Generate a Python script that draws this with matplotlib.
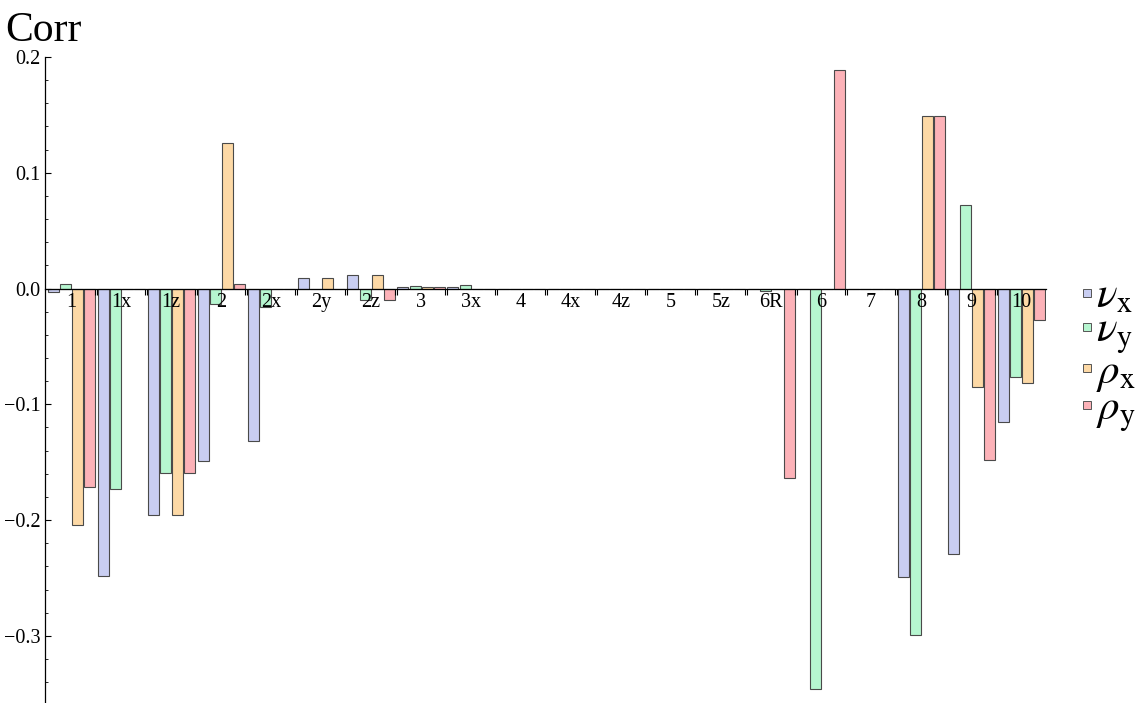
import numpy as np
import matplotlib
matplotlib.use('Agg')
import matplotlib.pyplot as plt
from matplotlib.lines import Line2D
from matplotlib.ticker import FixedLocator, FuncFormatter, MultipleLocator

# categories and series values
groups = ['1', '1x', '1z', '2', '2x', '2y', '2z', '3', '3x', '4',
          '4x', '4z', '5', '5z', '6R', '6', '7', '8', '9', '10']
nu_x = [-0.003, -0.248, -0.196, -0.149, -0.132, 0.0095, 0.0115, 0.001, 0.001, 0.0,
        0.0, 0.0, 0.0, 0.0, 0.0, 0.0, 0.0, -0.249, -0.229, -0.115]
nu_y = [0.004, -0.173, -0.159, -0.0136, -0.016, 0.0, -0.0095, 0.002, 0.0028, 0.0,
        0.0, 0.0, 0.0, 0.0, -0.002, -0.346, 0.0, -0.299, 0.072, -0.076]
rho_x = [-0.204, 0.0, -0.196, 0.1255, 0.0, 0.0095, 0.0115, 0.001, 0.0, 0.0,
         0.0, 0.0, 0.0, 0.0, 0.0, 0.0, 0.0, 0.149, -0.085, -0.082]
rho_y = [-0.171, 0.0, -0.159, 0.0035, 0.0, 0.0, -0.0095, 0.001, 0.0, 0.0,
         0.0, 0.0, 0.0, 0.0, -0.1636, 0.189, 0.0, 0.149, -0.148, -0.027]
series_labels = [r'$\nu_{\mathrm{x}}$', r'$\nu_{\mathrm{y}}$',
                 r'$\rho_{\mathrm{x}}$', r'$\rho_{\mathrm{y}}$']
colors = ['#c9cef2', '#b6f6d0', '#fdd9a6', '#fcb2b8']

plt.rcParams['font.family'] = ['Liberation Serif', 'DejaVu Serif']
plt.rcParams['mathtext.fontset'] = 'stix'

W, H = 1142, 703
fig = plt.figure(figsize=(W / 100, H / 100), dpi=100)
ax = fig.add_axes([45 / W, 0, 1001 / W, (H - 57) / H])

x = np.arange(len(groups))
slot = 0.24
for k, vals in enumerate([nu_x, nu_y, rho_x, rho_y]):
    ax.bar(x + (k - 1.5) * slot, vals, width=0.22, color=colors[k],
           edgecolor='#4a4a4a', linewidth=0.8, zorder=2)

ax.set_xlim(-0.52, 19.5)
ax.set_ylim(-0.358, 0.2)
ax.set_axisbelow(False)  # tick labels drawn over the bars

# axes: y axis at left, x axis through zero
for s in ['top', 'right']:
    ax.spines[s].set_visible(False)
ax.spines['bottom'].set_position(('data', 0))
ax.spines['bottom'].set_zorder(3)
ax.spines['left'].set_linewidth(0.9)
ax.spines['bottom'].set_linewidth(0.9)

# double tick marks at group boundaries, labels at group centres
bounds = np.arange(len(groups) - 1) + 0.5
ax.xaxis.set_major_locator(FixedLocator(np.concatenate([bounds - 0.018, bounds + 0.018])))
ax.xaxis.set_major_formatter(FuncFormatter(lambda v, p: ''))
ax.xaxis.set_minor_locator(FixedLocator(x))
ax.xaxis.set_minor_formatter(FuncFormatter(lambda v, p: groups[int(round(v))]))
ax.tick_params(axis='x', which='major', direction='out', length=4, width=0.8)
ax.tick_params(axis='x', which='minor', length=0, pad=3, labelsize=14.5)

ax.yaxis.set_major_locator(MultipleLocator(0.1))
ax.yaxis.set_minor_locator(MultipleLocator(0.02))
ax.yaxis.set_major_formatter(FuncFormatter(lambda v, p: ('%.1f' % v).replace('-', '\u2212') if abs(v) > 1e-9 else '0.0'))
ax.tick_params(axis='y', which='major', direction='in', length=4, width=0.8, labelsize=14.5, pad=3)
ax.tick_params(axis='y', which='minor', direction='in', length=2, width=0.6)

fig.text(5 / W, 1 - 41 / H, 'Corr', fontsize=30, va='baseline', ha='left')

handles = [Line2D([], [], marker='s', linestyle='none', markersize=6,
                  markerfacecolor=c, markeredgecolor='#555555', markeredgewidth=0.7)
           for c in colors]
fig.legend(handles, series_labels, loc='center left', bbox_to_anchor=(1079 / W, 1 - 356 / H),
           frameon=False, fontsize=31, handlelength=0.35, handletextpad=0.05,
           labelspacing=-0.1, borderpad=0, borderaxespad=0)

fig.savefig('out.png', dpi=100)
